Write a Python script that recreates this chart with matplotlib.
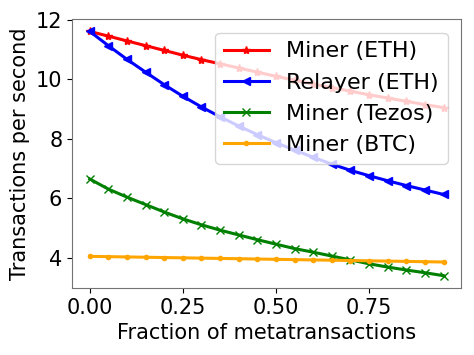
import numpy as np
import matplotlib
matplotlib.use('Agg')
import matplotlib.pyplot as plt

plt.rcParams.update({'font.size': 15})

fraction = [0.00, 0.05, 0.10, 0.15, 0.20, 0.25, 0.30, 0.35, 0.40, 0.45,
            0.50, 0.55, 0.60, 0.65, 0.70, 0.75, 0.80, 0.85, 0.90, 0.95]

miner_eth = [11.61, 11.45, 11.29, 11.13, 10.97, 10.81, 10.66, 10.52, 10.38, 10.24,
             10.10, 9.97, 9.84, 9.72, 9.60, 9.48, 9.37, 9.26, 9.15, 9.05]
relayer_eth = [11.61, 11.13, 10.67, 10.24, 9.82, 9.43, 9.07, 8.74, 8.43, 8.14,
               7.87, 7.62, 7.38, 7.15, 6.94, 6.76, 6.59, 6.43, 6.28, 6.13]
miner_tezos = [6.65, 6.31, 6.04, 5.79, 5.54, 5.31, 5.11, 4.93, 4.77, 4.61,
               4.46, 4.31, 4.19, 4.06, 3.93, 3.80, 3.69, 3.59, 3.50, 3.40]
miner_btc = [4.05, 4.04, 4.03, 4.02, 4.01, 4.00, 3.99, 3.98, 3.97, 3.96,
             3.95, 3.94, 3.93, 3.92, 3.91, 3.90, 3.89, 3.88, 3.87, 3.86]

fig = plt.figure(figsize=(4.74, 3.55), dpi=100)
ax = fig.add_axes([0.152, 0.189, 0.821, 0.757])

ax.plot(fraction, miner_eth, color='red', marker='*', markersize=6, linewidth=2.2, label='Miner (ETH)')
ax.plot(fraction, relayer_eth, color='blue', marker='<', markersize=6, linewidth=2.2, label='Relayer (ETH)')
ax.plot(fraction, miner_tezos, color='green', marker='x', markersize=6, linewidth=2.2, label='Miner (Tezos)')
ax.plot(fraction, miner_btc, color='orange', marker='.', markersize=6, linewidth=2.2, label='Miner (BTC)')

ax.set_xticks([0.0, 0.25, 0.5, 0.75])
ax.set_yticks([4, 6, 8, 10, 12])
ax.set_xlabel('Fraction of metatransactions')
ax.set_ylabel('Transactions per second')
for s in ax.spines.values():
    s.set_edgecolor('0.45')
ax.legend(loc='upper right', fontsize=16, borderaxespad=0.6)

fig.savefig('out.png', dpi=100)
